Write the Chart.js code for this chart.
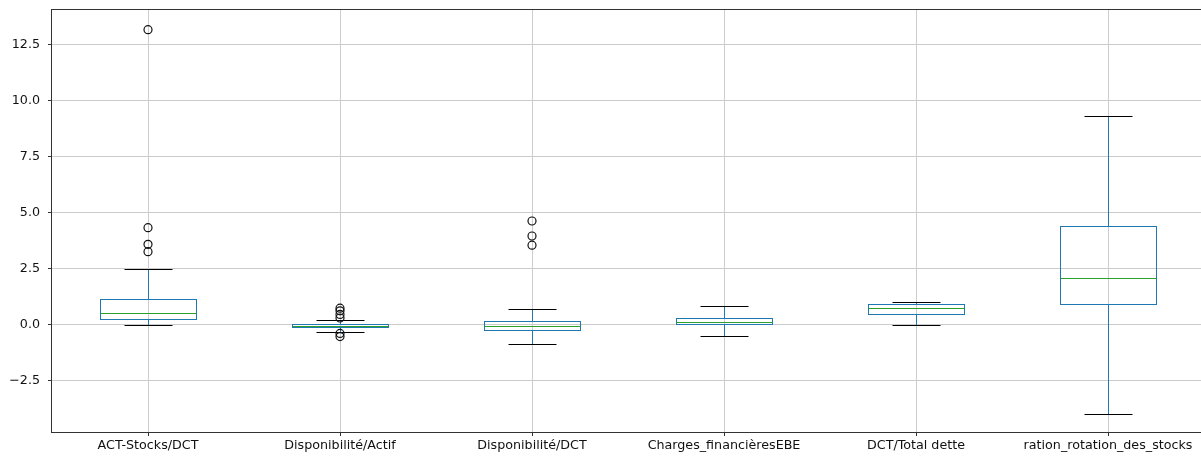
<!DOCTYPE html>
<html>
<head>
<meta charset="utf-8">
<script src="https://cdn.jsdelivr.net/npm/chart.js@4.4.1/dist/chart.umd.min.js"></script>
<style>
  html, body { margin: 0; padding: 0; background: #fff; overflow: hidden; }
  #wrap { width: 1210px; height: 460px; }
</style>
</head>
<body>
<div id="wrap"><canvas id="c" width="1210" height="460"></canvas></div>
<script>
// Box-plot summary per ratio
const categories = ['ACT-Stocks/DCT', 'Disponibilité/Actif', 'Disponibilité/DCT',
                    'Charges_financièresEBE', 'DCT/Total dette', 'ration_rotation_des_stocks'];
const whiskerLow  = [0.00, -0.31, -0.83, -0.49, 0.00, -3.96];
const q1          = [0.25, -0.08, -0.21,  0.03, 0.48,  0.95];
const median      = [0.55, -0.03, -0.03,  0.13, 0.77,  2.10];
const q3          = [1.16,  0.03,  0.19,  0.31, 0.95,  4.40];
const whiskerHigh = [2.51,  0.20,  0.73,  0.83, 1.01,  9.33];
const outliers = [
  [13.18, 4.34, 3.60, 3.27],
  [0.75, 0.63, 0.47, 0.31, -0.38, -0.52],
  [4.64, 3.97, 3.56],
  [],
  [],
  []
];
const yTicks = [-2.5, 0, 2.5, 5, 7.5, 10, 12.5];
const yMin = -4.78;
const yMax = 14.06;

const flierPoints = [];
outliers.forEach((list, i) => list.forEach(v => flierPoints.push({ x: categories[i], y: v })));

// snap a coordinate to the pixel grid so 1px strokes stay crisp
const snap = v => Math.round(v) + 0.5;

const boxPlugin = {
  id: 'boxes',
  beforeDatasetsDraw(chart) {
    const { ctx, chartArea, scales: { x, y } } = chart;
    const step = x.getPixelForValue(1) - x.getPixelForValue(0);
    const half = Math.round(step * 0.25), cap = Math.round(step * 0.125);
    ctx.save();
    ctx.beginPath();
    ctx.rect(chartArea.left, chartArea.top, chartArea.right - chartArea.left, chartArea.bottom - chartArea.top);
    ctx.clip();
    categories.forEach((c, i) => {
      const cx = snap(x.getPixelForValue(i));
      const yLo = snap(y.getPixelForValue(whiskerLow[i]));
      const yHi = snap(y.getPixelForValue(whiskerHigh[i]));
      const yQ1 = snap(y.getPixelForValue(q1[i]));
      const yQ3 = snap(y.getPixelForValue(q3[i]));
      const yMed = snap(y.getPixelForValue(median[i]));
      ctx.lineWidth = 1;
      // whiskers
      ctx.strokeStyle = '#1f77b4';
      ctx.beginPath();
      ctx.moveTo(cx, yQ1); ctx.lineTo(cx, yLo);
      ctx.moveTo(cx, yQ3); ctx.lineTo(cx, yHi);
      ctx.stroke();
      // caps
      ctx.strokeStyle = '#000';
      ctx.beginPath();
      ctx.moveTo(cx - cap, yLo); ctx.lineTo(cx + cap, yLo);
      ctx.moveTo(cx - cap, yHi); ctx.lineTo(cx + cap, yHi);
      ctx.stroke();
      // box
      ctx.strokeStyle = '#1f77b4';
      ctx.strokeRect(cx - half, yQ3, half * 2, yQ1 - yQ3);
      // median
      ctx.strokeStyle = '#2ca02c';
      ctx.beginPath();
      ctx.moveTo(cx - half, yMed); ctx.lineTo(cx + half, yMed);
      ctx.stroke();
    });
    ctx.restore();
  },
  afterDraw(chart) {
    const { ctx, chartArea } = chart;
    ctx.save();
    ctx.strokeStyle = '#333';
    ctx.lineWidth = 1;
    ctx.strokeRect(Math.round(chartArea.left) - 0.5, Math.round(chartArea.top) - 0.5,
                   Math.round(chartArea.right - chartArea.left) + 1, Math.round(chartArea.bottom - chartArea.top) + 1);
    ctx.restore();
  }
};

const tickFont = { family: 'DejaVu Sans', size: 12.7 };

new Chart(document.getElementById('c'), {
  type: 'scatter',
  data: {
    labels: categories,
    datasets: [{
      data: flierPoints,
      pointStyle: 'circle',
      pointRadius: 4,
      pointHoverRadius: 4,
      pointBorderWidth: 1.2,
      pointBorderColor: '#111',
      pointBackgroundColor: 'rgba(0,0,0,0)'
    }]
  },
  options: {
    responsive: false,
    animation: false,
    layout: { padding: { top: 10, right: 6, left: 0, bottom: 0 } },
    plugins: { legend: { display: false }, tooltip: { enabled: false } },
    scales: {
      x: {
        type: 'category',
        labels: categories,
        offset: true,
        grid: { offset: false, color: '#cccccc', tickColor: '#333', tickLength: 4, drawOnChartArea: true },
        border: { display: false },
        ticks: { color: '#111', font: tickFont, padding: 2, maxRotation: 0, autoSkip: false },
        afterFit(scale) { scale.height = 28; scale.paddingLeft = 0; scale.paddingRight = 0; }
      },
      y: {
        type: 'linear',
        min: yMin,
        max: yMax,
        afterBuildTicks(scale) { scale.ticks = yTicks.map(v => ({ value: v })); },
        grid: { color: '#cccccc', tickColor: '#333', tickLength: 4 },
        border: { display: false },
        ticks: {
          color: '#111', font: tickFont, padding: 8,
          callback: v => v.toFixed(1).replace('-', '\u2212')
        },
        afterFit(scale) { scale.width = 52; scale.paddingTop = 0; scale.paddingBottom = 0; }
      }
    }
  },
  plugins: [boxPlugin]
});
</script>
</body>
</html>
